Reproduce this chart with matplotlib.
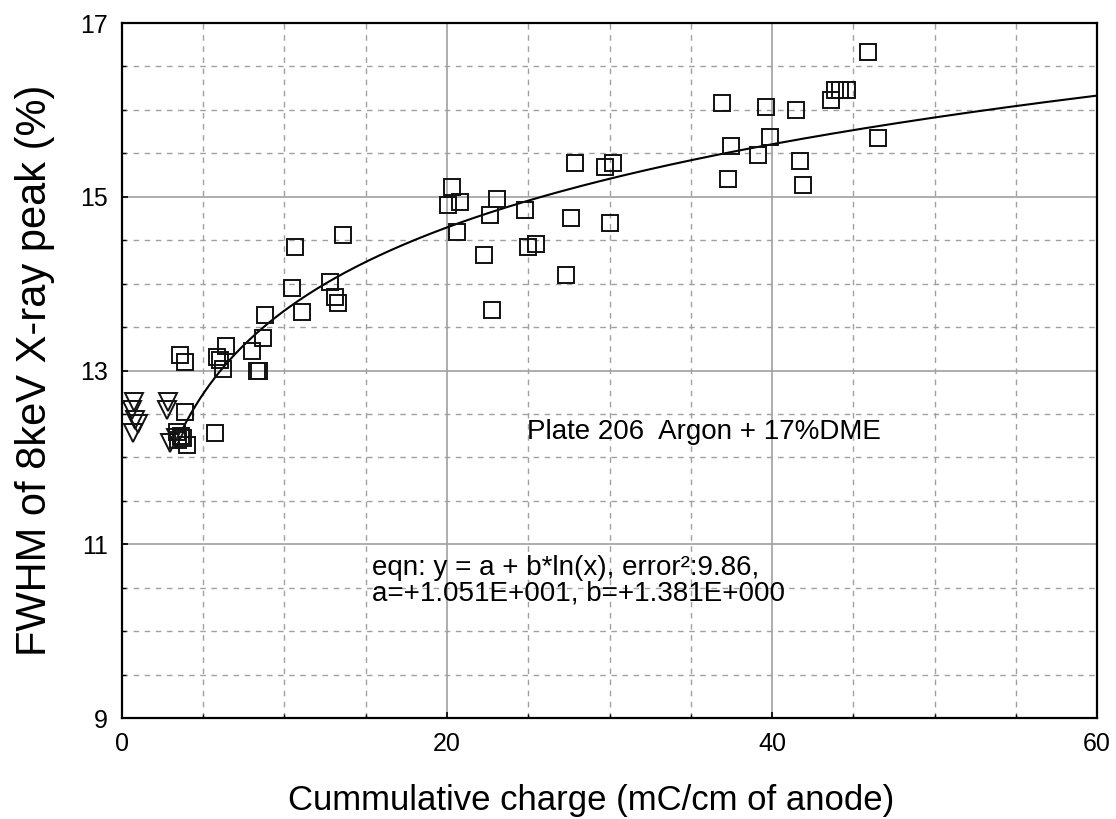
import numpy as np
import matplotlib
matplotlib.use("Agg")
import matplotlib.pyplot as plt
from matplotlib.ticker import MultipleLocator

plt.rcParams['font.family'] = ['Liberation Sans', 'DejaVu Sans']

# Triangle (early) data
tri_x = [0.74, 0.62, 0.80, 0.98, 0.68, 2.83, 2.77, 2.95, 3.30]
tri_y = [12.64, 12.55, 12.43, 12.39, 12.28, 12.64, 12.55, 12.17, 12.22]

# Square data
sq_x = [3.38, 3.63, 3.45, 3.75, 4.00, 3.88, 5.72,
        3.57, 3.88, 5.85, 6.03, 6.22, 6.40, 8.00, 8.68, 8.30, 8.45, 8.80,
        10.65, 13.60, 10.46, 11.08, 12.80, 13.10, 13.30,
        20.30, 20.06, 20.80, 20.60, 23.10, 22.65, 22.30, 22.80,
        24.80, 25.00, 25.50, 27.90, 27.60, 27.30, 29.70, 30.20, 30.00,
        36.90, 39.60, 41.50, 43.60, 43.90, 44.20, 44.60, 45.90,
        37.50, 39.90, 39.15, 37.30, 41.70, 41.90, 46.50]
sq_y = [12.29, 12.25, 12.20, 12.22, 12.14, 12.52, 12.28,
        13.18, 13.10, 13.16, 13.12, 13.02, 13.28, 13.22, 13.38, 13.00, 13.00, 13.64,
        14.42, 14.56, 13.95, 13.67, 14.02, 13.85, 13.78,
        15.11, 14.91, 14.94, 14.60, 14.98, 14.79, 14.33, 13.70,
        14.85, 14.42, 14.46, 15.39, 14.76, 14.10, 15.34, 15.39, 14.70,
        16.08, 16.03, 16.00, 16.11, 16.23, 16.23, 16.23, 16.67,
        15.58, 15.69, 15.48, 15.21, 15.41, 15.14, 15.68]

# Fit parameters
fit_a = 10.51
fit_b = 1.381
fit_xmin, fit_xmax = 3.7, 60.0

x_ticks = [0, 20, 40, 60]
y_ticks = [9, 11, 13, 15, 17]

fig = plt.figure(figsize=(11.16, 8.19), dpi=100)
ax = fig.add_axes([0.1093, 0.1233, 0.8737, 0.8486])

ax.set_xlim(0, 60)
ax.set_ylim(9, 17)
ax.set_xticks(x_ticks)
ax.set_yticks(y_ticks)
ax.xaxis.set_minor_locator(MultipleLocator(5))
ax.yaxis.set_minor_locator(MultipleLocator(0.5))

ax.grid(which='major', color='#a0a0a0', linestyle='-', linewidth=1.2, zorder=0)
ax.grid(which='minor', color='#a0a0a0', linestyle=(0, (4, 4)), linewidth=1.0, zorder=0)
ax.set_axisbelow(True)

for s in ax.spines.values():
    s.set_linewidth(1.6)
    s.set_color('black')

ax.tick_params(which='major', direction='in', length=4, width=1.2, labelsize=18)
ax.tick_params(axis='x', which='major', pad=10)
ax.tick_params(axis='y', which='major', pad=10)
ax.tick_params(which='minor', direction='in', length=3, width=1.0)

xf = np.linspace(fit_xmin, fit_xmax, 400)
ax.plot(xf, fit_a + fit_b * np.log(xf), color='black', lw=1.5, zorder=3)

ax.plot(sq_x, sq_y, linestyle='none', marker='s', markersize=12,
        markerfacecolor='none', markeredgecolor='#111111', markeredgewidth=1.4, zorder=4)
ax.plot(tri_x, tri_y, linestyle='none', marker='v', markersize=12.5,
        markerfacecolor='none', markeredgecolor='#111111', markeredgewidth=1.4, zorder=4)

ax.text(24.9, 12.29, "Plate 206  Argon + 17%DME", fontsize=20, va='center', ha='left')
ax.text(15.4, 10.58, "eqn: y = a + b*ln(x), error²:9.86,\na=+1.051E+001, b=+1.381E+000",
        fontsize=20, va='center', ha='left', linespacing=1.0)

ax.set_xlabel("Cummulative charge (mC/cm of anode)", fontsize=25, labelpad=20)
ax.xaxis.label.set_x(0.481)
ax.set_ylabel("FWHM of 8keV X-ray peak (%)", fontsize=30, labelpad=18)

fig.savefig("out.png", dpi=100)
